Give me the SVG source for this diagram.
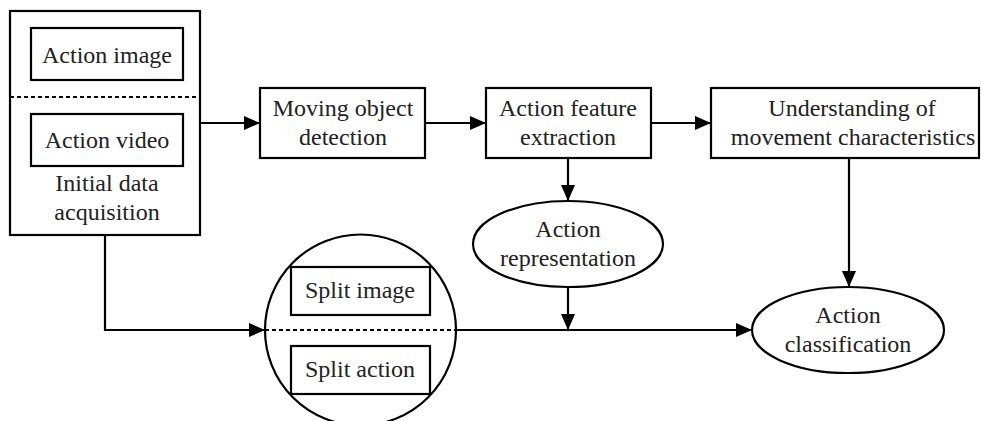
<svg xmlns="http://www.w3.org/2000/svg" width="981" height="421" viewBox="0 0 981 421">
  <defs>
    <marker id="arrow" markerWidth="16" markerHeight="14" refX="16" refY="7" orient="auto" markerUnits="userSpaceOnUse">
      <path d="M0,0 L16,7 L0,14 Z" fill="#000"/>
    </marker>
    <style>
      .box { fill: #fff; stroke: #000; stroke-width: 2.2; }
      .shape { fill: #fff; stroke: #000; stroke-width: 2.2; }
      .dash { fill: none; stroke: #000; stroke-width: 2; stroke-dasharray: 4 3; }
      .arr { fill: none; stroke: #000; stroke-width: 2.2; marker-end: url(#arrow); }
      text { font-family: "Liberation Serif", "Times New Roman", serif; font-size: 24px; fill: #222; text-anchor: middle; }
    </style>
  </defs>
  <rect width="981" height="421" fill="#fff"/>

  <!-- connectors -->
  <g id="connectors">
    <path class="arr" d="M200,123 H260"/>
    <path class="arr" d="M425,123 H486"/>
    <path class="arr" d="M651,123 H711"/>
    <path class="arr" d="M568,158 V201"/>
    <path class="arr" d="M849,158 V287"/>
    <path class="arr" d="M105,235 V330 H265"/>
    <path class="arr" d="M568,287 V330"/>
    <path class="arr" d="M456,330 H752"/>
  </g>

  <!-- initial data acquisition -->
  <g id="acquisition">
    <rect class="box" x="10" y="11" width="190" height="224"/>
    <line class="dash" x1="10" y1="97" x2="200" y2="97"/>
    <rect class="box" x="31" y="28" width="152" height="52"/>
    <text x="107" y="63">Action image</text>
    <rect class="box" x="31" y="114" width="152" height="52"/>
    <text x="107" y="148">Action video</text>
    <text x="107" y="191">Initial data</text>
    <text x="107" y="220">acquisition</text>
  </g>

  <g id="moving-object">
    <rect class="box" x="260" y="88" width="165" height="70"/>
    <text x="343" y="116">Moving object</text>
    <text x="343" y="145">detection</text>
  </g>

  <g id="feature-extraction">
    <rect class="box" x="486" y="88" width="165" height="70"/>
    <text x="568" y="116">Action feature</text>
    <text x="568" y="145">extraction</text>
  </g>

  <g id="movement-understanding">
    <rect class="box" x="711" y="88" width="268" height="70"/>
    <text x="852" y="116">Understanding of</text>
    <text x="853" y="145">movement characteristics</text>
  </g>

  <g id="representation">
    <ellipse class="shape" cx="568" cy="244" rx="95" ry="43"/>
    <text x="568" y="237">Action</text>
    <text x="568" y="266">representation</text>
  </g>

  <g id="split">
    <circle class="shape" cx="360.5" cy="330" r="95.5"/>
    <line class="dash" x1="265" y1="330" x2="456" y2="330"/>
    <rect class="box" x="291" y="267" width="139" height="48"/>
    <text x="360" y="298">Split image</text>
    <rect class="box" x="291" y="346" width="139" height="48"/>
    <text x="360" y="377">Split action</text>
  </g>

  <g id="classification">
    <ellipse class="shape" cx="848" cy="330" rx="96" ry="43"/>
    <text x="848" y="323">Action</text>
    <text x="848" y="352">classification</text>
  </g>
</svg>
